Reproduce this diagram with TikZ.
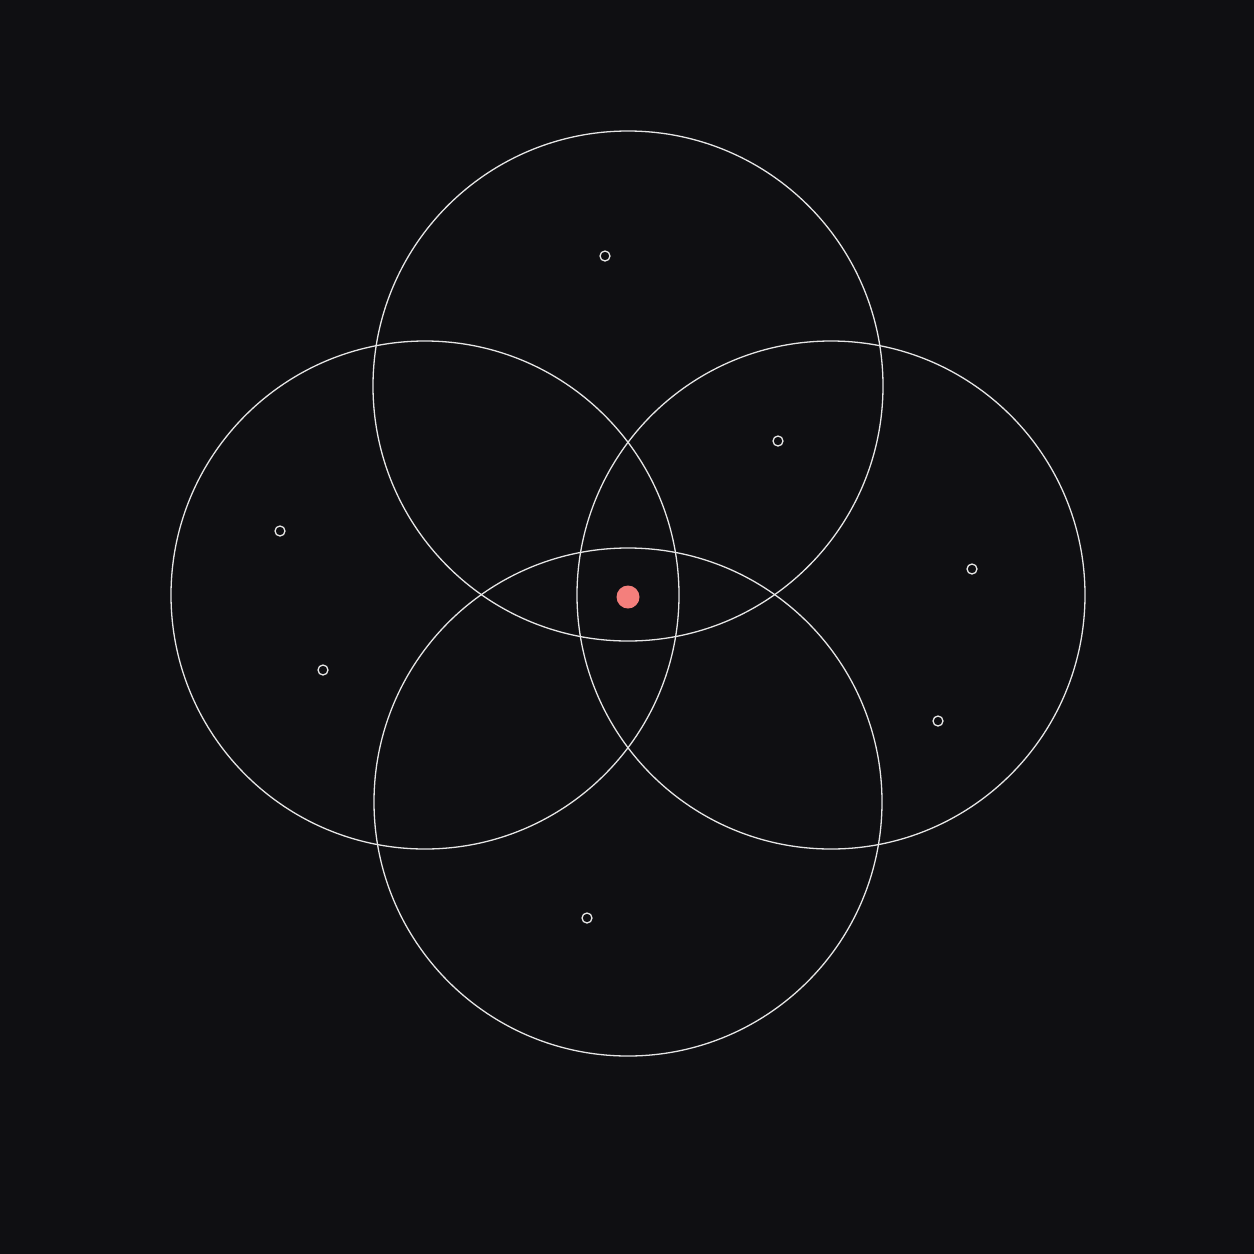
\documentclass[tikz,border=0pt]{standalone}
\definecolor{bg}{HTML}{0F0F12}
\definecolor{ring}{HTML}{E6E6E6}
\definecolor{dotred}{HTML}{F47F7C}
\begin{document}
\begin{tikzpicture}[x=1pt,y=-1pt,
  bigring/.style={draw=ring,line width=1.3pt},
  smallring/.style={draw=ring,line width=1.3pt},
  reddot/.style={fill=dotred}]
\fill[bg] (0,0) rectangle (1254,1254);
\useasboundingbox (0,0) rectangle (1254,1254);
\draw[bigring] (628,386) circle (255);
\draw[bigring] (425,595) circle (254);
\draw[bigring] (831,595) circle (254);
\draw[bigring] (628,802) circle (254);
\fill[reddot] (628,597) circle (11.5);
\foreach \p in {(605,256),(778,441),(280,531),(323,670),(972,569),(938,721),(587,918)}
  \draw[smallring] \p circle (5);
\end{tikzpicture}
\end{document}
